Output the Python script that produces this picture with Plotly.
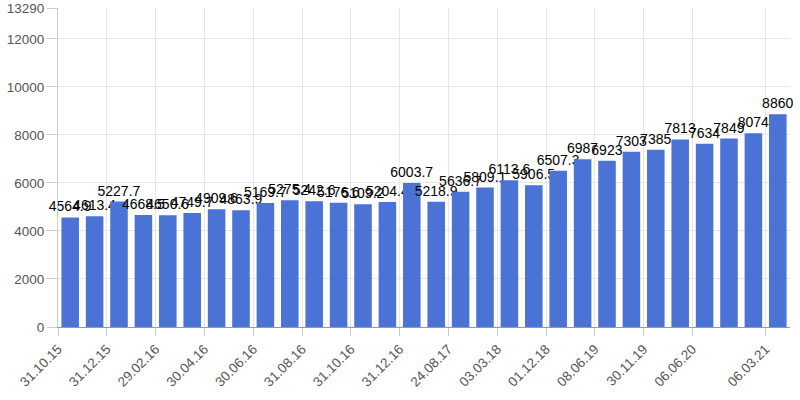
import plotly.graph_objects as go

dates = ["31.10.15", "30.11.15", "31.12.15", "31.01.16", "29.02.16", "31.03.16",
         "30.04.16", "31.05.16", "30.06.16", "31.07.16", "31.08.16", "30.09.16",
         "31.10.16", "30.11.16", "31.12.16", "31.03.17", "24.08.17", "30.11.17",
         "03.03.18", "01.07.18", "01.12.18", "02.03.19", "08.06.19", "31.08.19",
         "30.11.19", "29.02.20", "06.06.20", "05.09.20", "05.12.20", "06.03.21"]
values = [4564.9, 4613.4, 5227.7, 4668.5, 4650.6, 4749.7, 4909.6, 4863.9, 5169.7, 5275.4,
          5242.6, 5176.6, 5109.2, 5204.4, 6003.7, 5218.9, 5636.7, 5809.1, 6113.6, 5906.5,
          6507.3, 6987, 6923, 7303, 7385, 7813, 7634, 7849, 8074, 8860]
shown_idx = [0, 2, 4, 6, 8, 10, 12, 14, 16, 18, 20, 22, 24, 26, 29]
y_ticks = [0, 2000, 4000, 6000, 8000, 10000, 12000, 13290]
y_max = 13290

xpos = [i + 0.5 for i in range(len(values))]
labels = [f"{v:g}" for v in values]

fig = go.Figure(go.Bar(
    x=xpos, y=values, text=labels, textposition="outside",
    textangle=0, constraintext="none", cliponaxis=False,
    textfont=dict(color="#000000", size=14, family="Arial, Liberation Sans"),
    marker=dict(color="#4a73d5", line=dict(width=0)),
    width=0.72, hoverinfo="skip",
))

fig.update_layout(
    width=800, height=400,
    margin=dict(l=58, r=10, t=8, b=73, autoexpand=False),
    plot_bgcolor="white", paper_bgcolor="white",
    showlegend=False,
    font=dict(family="Arial, Liberation Sans", size=14, color="#444444"),
)
fig.update_xaxes(
    range=[0, len(values)],
    tickmode="array", tickvals=shown_idx, ticktext=[dates[i] for i in shown_idx],
    tickangle=-45, ticks="outside", ticklen=8, tickcolor="#cccccc",
    showgrid=True, gridcolor="#e6e6e6", gridwidth=1,
    showline=True, linecolor="#999999", linewidth=1,
    zeroline=False, tickfont=dict(size=13.5, color="#555555"),
)
fig.update_yaxes(
    range=[0, y_max], autorange=False,
    tickmode="array", tickvals=y_ticks, ticktext=[str(v) for v in y_ticks],
    ticks="outside", ticklen=10, tickcolor="#cccccc",
    showgrid=True, gridcolor="#e6e6e6", gridwidth=1,
    showline=True, linecolor="#cccccc", linewidth=1, mirror=False,
    zeroline=False, tickfont=dict(size=13.5, color="#555555"),
    ticklabeloverflow="allow",
)

fig.write_html("out.html")
